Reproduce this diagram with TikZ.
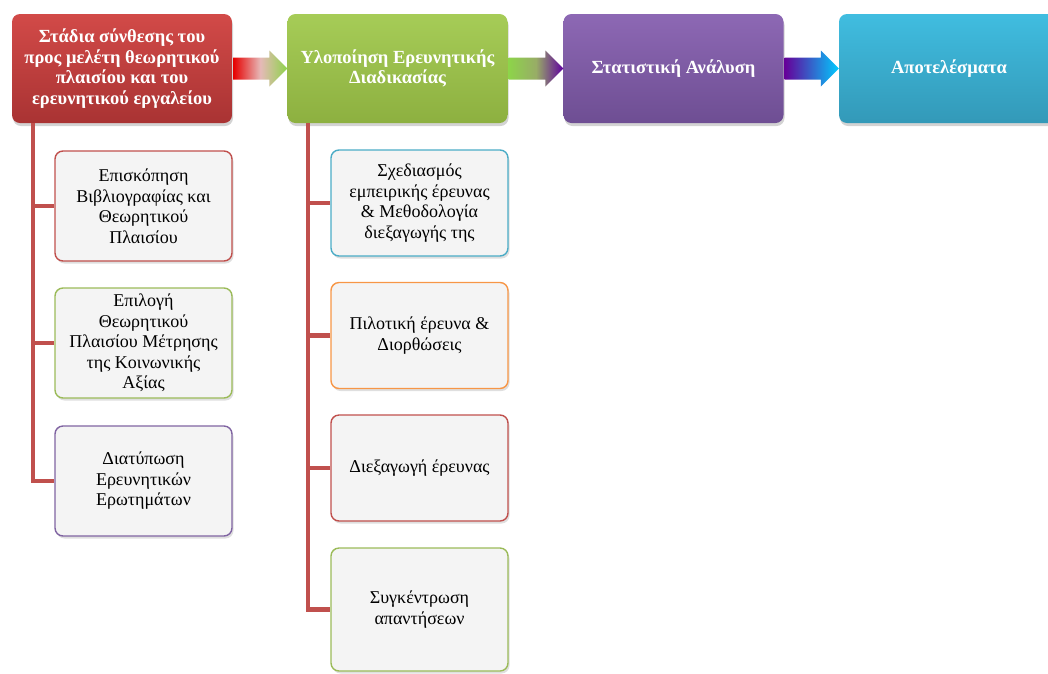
\documentclass[tikz,border=0pt]{standalone}
\usepackage{fontspec}
\setmainfont{Liberation Serif}
\usetikzlibrary{calc,shadows}

\definecolor{stRed}{HTML}{C0504D}
\definecolor{stGreen}{HTML}{9BBB59}
\definecolor{stPurple}{HTML}{8064A2}
\definecolor{stBlue}{HTML}{4BACC6}
\definecolor{stOrange}{HTML}{F79646}
\definecolor{taskFill}{HTML}{F4F4F4}
\definecolor{redTop}{HTML}{D24A48}
\definecolor{redBot}{HTML}{A93333}
\definecolor{greenTop}{HTML}{A6CC57}
\definecolor{greenBot}{HTML}{8DB040}
\definecolor{purpleTop}{HTML}{8D68B4}
\definecolor{purpleBot}{HTML}{6E4E93}
\definecolor{blueTop}{HTML}{40BDE0}
\definecolor{blueBot}{HTML}{3399B8}

\tikzset{
  stage/.style={rounded corners=8pt, minimum width=220pt, minimum height=109pt,
    text=white, align=center, font=\fontsize{18.5}{20.5}\selectfont\bfseries,
    drop shadow={shadow xshift=1pt, shadow yshift=-3pt, opacity=.35}},
  task/.style={rounded corners=8pt, minimum width=177pt, line width=1.4pt,
    fill=taskFill, align=center, font=\fontsize{18}{20.5}\selectfont,
    drop shadow={shadow xshift=1.5pt, shadow yshift=-2.5pt, opacity=.25}},
  trunk/.style={draw=stRed, line width=4.5pt, line join=miter}
}

\begin{document}
\begin{tikzpicture}[x=1pt,y=-1pt]
  \useasboundingbox (0,0) rectangle (1048,673);

  % main stages
  \node[stage, top color=redTop, bottom color=redBot] (synth) at (122,68.5)
    {Στάδια σύνθεσης του\\προς μελέτη θεωρητικού\\πλαισίου και του\\ερευνητικού εργαλείου};
  \node[stage, top color=greenTop, bottom color=greenBot] (impl) at (397.5,68.5)
    {Υλοποίηση Ερευνητικής\\Διαδικασίας};
  \node[stage, top color=purpleTop, bottom color=purpleBot] (stat) at (673.5,68.5)
    {Στατιστική Ανάλυση};
  \node[stage, top color=blueTop, bottom color=blueBot] (res) at (949,68.5)
    {Αποτελέσματα};

  % arrows between stages
  \shade[left color=red!90!black, right color=greenTop!85!green, middle color=stRed!40!white]
    ($(synth.east)+(1,-11)$) -- ($(impl.west)+(-18,-11)$) -- ($(impl.west)+(-18,-18)$) -- (impl.west)
    -- ($(impl.west)+(-18,18)$) -- ($(impl.west)+(-18,11)$) -- ($(synth.east)+(1,11)$) -- cycle;
  \shade[left color=greenTop!85!green, right color=violet!75!blue, middle color=greenTop!75!purpleBot]
    ($(impl.east)+(1,-11)$) -- ($(stat.west)+(-18,-11)$) -- ($(stat.west)+(-18,-18)$) -- (stat.west)
    -- ($(stat.west)+(-18,18)$) -- ($(stat.west)+(-18,11)$) -- ($(impl.east)+(1,11)$) -- cycle;
  \shade[left color=violet!80!blue, right color=cyan!80!blue]
    ($(stat.east)+(1,-11)$) -- ($(res.west)+(-18,-11)$) -- ($(res.west)+(-18,-18)$) -- (res.west)
    -- ($(res.west)+(-18,18)$) -- ($(res.west)+(-18,11)$) -- ($(stat.east)+(1,11)$) -- cycle;

  % tasks of the first stage
  \node[task, draw=stRed, minimum height=110pt] (lit) at (143.5,206)
    {Επισκόπηση\\Βιβλιογραφίας και\\Θεωρητικού\\Πλαισίου};
  \node[task, draw=stGreen, minimum height=110pt] (frame) at (143.5,343)
    {Επιλογή\\Θεωρητικού\\Πλαισίου Μέτρησης\\της Κοινωνικής\\Αξίας};
  \node[task, draw=stPurple, minimum height=110pt] (quest) at (143.5,481)
    {Διατύπωση\\Ερευνητικών\\Ερωτημάτων};

  % tasks of the second stage
  \node[task, draw=stBlue, minimum height=106pt] (design) at (419.5,203)
    {Σχεδιασμός\\εμπειρικής έρευνας\\\& Μεθοδολογία\\διεξαγωγής της};
  \node[task, draw=stOrange, minimum height=106pt] (pilot) at (419.5,335.5)
    {Πιλοτική έρευνα \&\\Διορθώσεις};
  \node[task, draw=stRed, minimum height=106pt] (survey) at (419.5,468)
    {Διεξαγωγή έρευνας};
  \node[task, draw=stGreen, minimum height=123pt] (collect) at (419.5,609.5)
    {Συγκέντρωση\\απαντήσεων};

  % trunks
  \coordinate (lt) at (33,123);
  \coordinate (mt) at (308,123);
  \draw[trunk] (lt) |- (quest.west);
  \draw[trunk] (lit.west) -- (lit.west -| lt);
  \draw[trunk] (frame.west) -- (frame.west -| lt);
  \draw[trunk] (mt) |- (collect.west);
  \draw[trunk] (design.west) -- (design.west -| mt);
  \draw[trunk] (pilot.west) -- (pilot.west -| mt);
  \draw[trunk] (survey.west) -- (survey.west -| mt);
\end{tikzpicture}
\end{document}
